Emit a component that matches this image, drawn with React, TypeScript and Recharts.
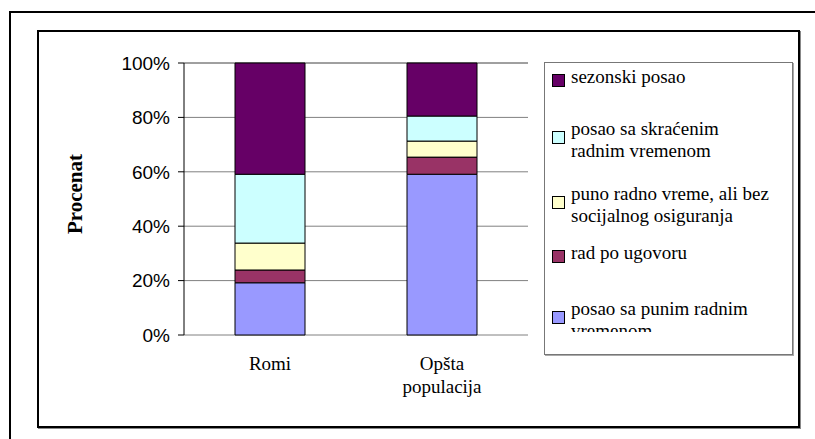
import { Bar, BarChart, CartesianGrid, XAxis, YAxis } from "recharts";

// share of employed by type of job (%)
const categories = ["Romi", "Opšta populacija"];
const fullTime = [19.2, 59.1];
const contract = [4.7, 6.3];
const noInsurance = [9.9, 5.9];
const partTime = [25.3, 9.2];
const seasonal = [40.9, 19.5];
const yTicks = [0, 20, 40, 60, 80, 100];
const frameTicks = [0, 1, 2];

const series = [
  { key: "fullTime", name: "posao sa punim radnim\nvremenom", color: "#9999FF", values: fullTime },
  { key: "contract", name: "rad po ugovoru", color: "#993366", values: contract },
  { key: "noInsurance", name: "puno radno vreme, ali bez\nsocijalnog osiguranja", color: "#FFFFCC", values: noInsurance },
  { key: "partTime", name: "posao sa skraćenim\nradnim vremenom", color: "#CCFFFF", values: partTime },
  { key: "seasonal", name: "sezonski posao", color: "#660066", values: seasonal },
];

const data = categories.map((category, i) => {
  const row: Record<string, string | number> = { category };
  series.forEach((s) => (row[s.key] = s.values[i]));
  return row;
});

const SERIF = "'Liberation Serif', 'Times New Roman', serif";
const SANS = "'Liberation Sans', Arial, sans-serif";

// legend item line tops, relative to the legend box (Excel spreads them unevenly)
const legendTops = [3, 55, 120, 179, 235];

function CategoryTick({ x, y, payload }: any) {
  const lines = String(payload.value).split(" ");
  return (
    <text x={x} y={y + 35} textAnchor="middle" fontFamily={SERIF} fontSize={19} fill="#000">
      {lines.map((line, i) => (
        <tspan key={i} x={x} dy={i === 0 ? 0 : 23}>
          {line}
        </tspan>
      ))}
    </text>
  );
}

function YTitle({ viewBox }: any) {
  const cx = viewBox.x + 75;
  const cy = viewBox.y + viewBox.height / 2 - 5;
  return (
    <text
      x={cx}
      y={cy}
      transform={`rotate(-90 ${cx} ${cy})`}
      textAnchor="middle"
      dominantBaseline="central"
      fontFamily={SERIF}
      fontWeight="bold"
      fontSize={21}
      fill="#000"
    >
      Procenat
    </text>
  );
}

function ChartLegend() {
  const items = [...series].reverse();
  return (
    <div
      style={{
        position: "absolute",
        left: 544,
        top: 62,
        width: 249,
        height: 293,
        boxSizing: "border-box",
        border: "1px solid #777",
        boxShadow: "1px 1px 0 #aaa",
        background: "#fff",
      }}
    >
      {/* the last label runs past the box in the original and gets cut */}
      <div style={{ position: "absolute", left: 0, top: 0, right: 0, height: 269, overflow: "hidden" }}>
        {items.map((s, i) => {
          const twoLines = s.name.includes("\n");
          return (
            <div key={s.key} style={{ position: "absolute", left: 0, top: legendTops[i], width: 240 }}>
              <div
                style={{
                  position: "absolute",
                  left: 7,
                  top: twoLines ? 13 : 8,
                  width: 13,
                  height: 13,
                  boxSizing: "border-box",
                  border: "1px solid #000",
                  background: s.color,
                }}
              />
              <div
                style={{
                  marginLeft: 26,
                  fontFamily: SERIF,
                  fontSize: 19,
                  lineHeight: "22px",
                  whiteSpace: "pre-line",
                  color: "#000",
                }}
              >
                {s.name}
              </div>
            </div>
          );
        })}
      </div>
    </div>
  );
}

export default function App() {
  return (
    <div style={{ position: "absolute", left: 0, top: 0, width: 815, height: 439, overflow: "hidden", background: "#fff" }}>
      <div
        style={{
          position: "absolute",
          left: 9,
          top: 11,
          width: 900,
          height: 500,
          border: "2px solid #000",
          boxSizing: "border-box",
        }}
      />
      <div
        style={{
          position: "absolute",
          left: 37,
          top: 30,
          width: 763,
          height: 398,
          border: "2px solid #000",
          boxShadow: "1px 1px 0 #888",
          boxSizing: "border-box",
        }}
      />
      <div style={{ position: "absolute", left: 0, top: 0 }}>
        <BarChart width={815} height={439} data={data} margin={{ top: 63, right: 287, bottom: 44, left: 0 }}>
          <CartesianGrid vertical={false} stroke="#808080" />
          <XAxis
            xAxisId="frame"
            type="number"
            domain={[0, 2]}
            ticks={frameTicks}
            interval={0}
            tick={false}
            tickSize={7}
            height={0}
            stroke="#000"
            axisLine={{ stroke: "#000" }}
            tickLine={{ stroke: "#000" }}
          />
          <XAxis
            dataKey="category"
            axisLine={false}
            tickLine={false}
            tickSize={0}
            tickMargin={0}
            interval={0}
            height={60}
            tick={<CategoryTick />}
          />
          <YAxis
            width={184}
            domain={[0, 100]}
            ticks={yTicks}
            interval={0}
            tickFormatter={(v) => `${v}%`}
            tickSize={6}
            tickMargin={8}
            stroke="#000"
            axisLine={{ stroke: "#000" }}
            tickLine={{ stroke: "#000" }}
            tick={{ fill: "#000", fontSize: 19, fontFamily: SANS }}
            label={{ content: <YTitle /> }}
          />
          <YAxis
            yAxisId="border"
            orientation="right"
            width={0}
            domain={[0, 100]}
            tick={false}
            tickLine={false}
            axisLine={{ stroke: "#808080" }}
          />
          {series.map((s) => (
            <Bar
              key={s.key}
              dataKey={s.key}
              name={s.name}
              stackId="jobs"
              fill={s.color}
              stroke="#000"
              strokeWidth={1}
              barSize={70}
              isAnimationActive={false}
            />
          ))}
        </BarChart>
      </div>
      <ChartLegend />
    </div>
  );
}
